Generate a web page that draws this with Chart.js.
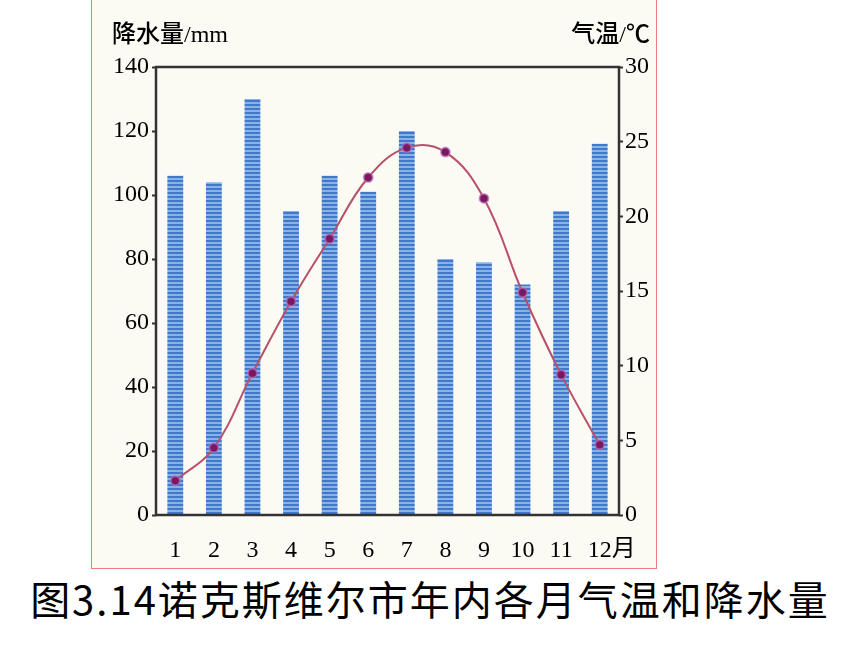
<!DOCTYPE html>
<html lang="zh">
<head>
<meta charset="utf-8">
<title>诺克斯维尔市年内各月气温和降水量</title>
<script src="https://cdn.jsdelivr.net/npm/chart.js@4/dist/chart.umd.min.js"></script>
<style>
  html, body { margin: 0; padding: 0; background: #fff; width: 860px; height: 645px; overflow: hidden; }
  .frame {
    position: absolute; left: 91px; top: -1px;
    width: 564px; height: 568px;
    border: 1px solid #f07a7a;
    background: #fbfaf3;
  }
  .frame canvas { display: block; }
  .caption {
    position: absolute; left: 0; top: 574px; width: 860px;
    text-align: center;
    font-family: "Noto Sans CJK SC", sans-serif;
    font-size: 40px; font-weight: 400; letter-spacing: 2px;
    color: #000; line-height: 48px;
  }
</style>
</head>
<body>
<div class="frame"><canvas id="climate" width="564" height="568"></canvas></div>
<div class="caption">图3.14诺克斯维尔市年内各月气温和降水量</div>

<script>
// ═══════════════════════════════════════
// Knoxville — monthly temperature & rainfall
// ═══════════════════════════════════════

// ── Data ──
const months = ['1', '2', '3', '4', '5', '6', '7', '8', '9', '10', '11', '12'];
const precipitation = [106, 104, 130, 95, 106, 101, 120, 80, 79, 72, 95, 116];   // mm
const temperature = [2.3, 4.5, 9.5, 14.3, 18.5, 22.6, 24.6, 24.3, 21.2, 14.9, 9.4, 4.7]; // °C
const rainTicks = [0, 20, 40, 60, 80, 100, 120, 140];
const tempTicks = [0, 5, 10, 15, 20, 25, 30];

(function() {
  'use strict';

  const INK = '#000';
  const TICK_FONT = { family: '"Liberation Serif", "DejaVu Serif", serif', size: 24 };

  // striped blue fill for the bars
  function stripePattern(ctx) {
    const c = document.createElement('canvas');
    c.width = 4; c.height = 4;
    const g = c.getContext('2d');
    g.fillStyle = '#4079ca'; g.fillRect(0, 0, 4, 2);
    g.fillStyle = '#8ab2e6'; g.fillRect(0, 2, 4, 2);
    return ctx.createPattern(c, 'repeat');
  }

  // ── Frame, axis titles and the 月 unit ──
  const decorations = {
    id: 'decorations',
    afterDraw(chart) {
      const ctx = chart.ctx;
      const a = chart.chartArea;
      ctx.save();
      ctx.strokeStyle = '#333';
      ctx.lineWidth = 2.5;
      ctx.strokeRect(a.left, a.top, a.right - a.left, a.bottom - a.top);

      ctx.fillStyle = INK;
      ctx.font = '500 24px "Liberation Serif", "Noto Sans CJK SC", serif';
      ctx.textBaseline = 'middle';
      ctx.textAlign = 'left';
      ctx.fillText('降水量/mm', 20, 36);
      ctx.textAlign = 'right';
      ctx.fillText('气温/℃', 558, 36);

      // "月" after the last month label
      const x = chart.scales.x;
      const lastX = x.getPixelForTick(months.length - 1);
      ctx.font = '24px "Noto Sans CJK SC", sans-serif';
      ctx.textAlign = 'left';
      ctx.fillText('月', lastX + 12, a.bottom + 32);
      ctx.restore();
    }
  };

  function init() {
    const canvas = document.getElementById('climate');
    const ctx = canvas.getContext('2d');

    new Chart(canvas, {
      type: 'bar',
      data: {
        labels: months,
        datasets: [
          {
            type: 'line',
            label: '气温',
            data: temperature,
            yAxisID: 'y1',
            borderColor: '#b8506a',
            borderWidth: 2,
            tension: 0.4,
            pointRadius: 4.5,
            pointBackgroundColor: '#7a1a5e',
            pointBorderColor: 'rgba(190, 110, 200, 0.6)',
            pointBorderWidth: 2,
            order: 0
          },
          {
            type: 'bar',
            label: '降水量',
            data: precipitation,
            yAxisID: 'y',
            backgroundColor: stripePattern(ctx),
            barPercentage: 0.82,
            categoryPercentage: 0.5,
            order: 1
          }
        ]
      },
      options: {
        responsive: false,
        animation: false,
        layout: { padding: { top: 67, left: 0, right: 0, bottom: 0 } },
        plugins: { legend: { display: false }, tooltip: { enabled: false } },
        scales: {
          x: {
            grid: { display: false },
            border: { display: false },
            ticks: { color: INK, font: TICK_FONT, padding: 13, maxRotation: 0 },
            afterFit: function(s) { s.height = 53; }
          },
          y: {
            position: 'left',
            min: 0, max: 140,
            afterBuildTicks: function(s) { s.ticks = rainTicks.map(function(v) { return { value: v }; }); },
            grid: { drawOnChartArea: false, color: '#333', tickLength: 4, tickWidth: 2 },
            border: { display: false },
            ticks: { color: INK, font: TICK_FONT, padding: 3 },
            afterFit: function(s) { s.width = 64; }
          },
          y1: {
            position: 'right',
            min: 0, max: 30,
            afterBuildTicks: function(s) { s.ticks = tempTicks.map(function(v) { return { value: v }; }); },
            grid: { drawOnChartArea: false, color: '#333', tickLength: 4, tickWidth: 2 },
            border: { display: false },
            ticks: { color: INK, font: TICK_FONT, padding: 2 },
            afterFit: function(s) { s.width = 37; }
          }
        }
      },
      plugins: [decorations]
    });
  }

  if (document.readyState === 'loading') {
    document.addEventListener('DOMContentLoaded', init);
  } else {
    init();
  }
})();
</script>
</body>
</html>
